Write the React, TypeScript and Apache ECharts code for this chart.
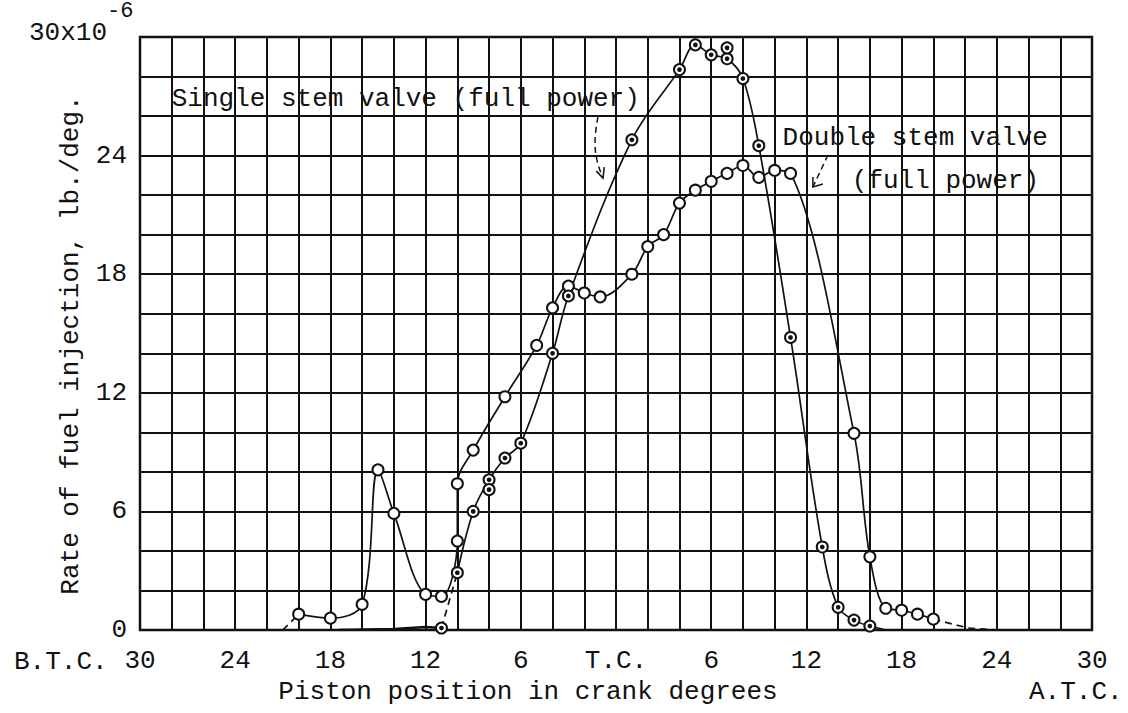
import React, { useEffect, useRef } from "react";
import * as echarts from "echarts";

// ---- axis ticks / labels ----
const xTicks = [-30, -24, -18, -12, -6, 0, 6, 12, 18, 24, 30];
const xTickLabels = ["30", "24", "18", "12", "6", "T.C.", "6", "12", "18", "24", "30"];
const yTicks = [0, 6, 12, 18, 24, 30];
const yTickLabels = ["0", "6", "12", "18", "24", "30x10"];
const yExponent = "-6";
const xTitle = "Piston position in crank degrees";
const yTitle = "Rate of fuel injection, lb./deg.";
const beforeLabel = "B.T.C.";
const afterLabel = "A.T.C.";
const singleLabel = "Single stem valve (full power)";
const doubleLabel1 = "Double stem valve";
const doubleLabel2 = "(full power)";

// ---- Double stem valve (open circles) ----
const doubleX = [-20, -18, -16, -15, -14, -12, -11, -10, -10, -9, -7, -5, -4, -3, -2, -1, 1, 2, 3, 4, 5, 6, 7, 8, 9, 10, 11, 15, 16, 17, 18, 19, 20];
const doubleY = [0.8, 0.6, 1.3, 8.1, 5.9, 1.8, 1.7, 4.5, 7.4, 9.1, 11.8, 14.4, 16.3, 17.4, 17.05, 16.85, 18.0, 19.4, 20.0, 21.6, 22.25, 22.7, 23.1, 23.5, 22.9, 23.25, 23.1, 9.95, 3.7, 1.1, 1.0, 0.8, 0.55];
const doubleLeadX = [-21, -20];
const doubleLeadY = [0, 0.8];
const doubleTailX = [20, 22.2, 24];
const doubleTailY = [0.55, 0.1, 0];

// ---- Single stem valve (dotted circles) ----
const singleX = [-11, -10, -9, -8, -7, -6, -4, -3, 1, 4, 5, 6, 7, 8, 9, 11, 13, 14, 15, 16];
const singleY = [0.1, 2.9, 6.0, 7.6, 8.7, 9.45, 14.0, 16.9, 24.8, 28.35, 29.6, 29.1, 28.9, 27.9, 24.5, 14.8, 4.2, 1.15, 0.5, 0.2];
const singleExtraX = [-8, 7];
const singleExtraY = [7.1, 29.45];
const singleLeadX = [-17.5, -14, -12, -11];
const singleLeadY = [0, 0.05, 0.15, 0.1];
const singleEndX = [16, 17];
const singleEndY = [0.2, 0];

const FONT = "'Liberation Mono', 'DejaVu Sans Mono', monospace";
const INK = "#111";

const pairs = (xs: number[], ys: number[]) => xs.map((x, i) => [x, ys[i]]);

export default function App() {
  const ref = useRef<HTMLDivElement>(null);

  useEffect(() => {
    document.body.style.margin = "0";
    const chart = echarts.init(ref.current!, null, { renderer: "svg" });

    const line = (data: number[][], opts: any = {}) => ({
      type: "line",
      data,
      showSymbol: false,
      symbol: "none",
      silent: true,
      z: 2,
      smooth: opts.smooth ?? false,
      lineStyle: { color: INK, width: opts.width ?? 1.7, type: opts.dash ? [7, 5] : "solid" },
    });
    const marks = (data: number[][], size: number, symbol: string, z: number) => ({
      type: "scatter",
      data,
      symbol,
      symbolSize: size,
      silent: true,
      z,
      itemStyle: { color: INK, borderColor: INK, borderWidth: 1.7, opacity: 1 },
    });

    chart.setOption({
      animation: false,
      backgroundColor: "#fff",
      grid: {
        left: 140,
        right: 36,
        top: 37,
        bottom: 83,
        show: true,
        borderColor: INK,
        borderWidth: 2.5,
        backgroundColor: "transparent",
        outerBoundsMode: "none",
      },
      xAxis: {
        type: "value",
        min: -30,
        max: 30,
        interval: 2,
        axisLine: { show: false },
        axisTick: { show: false },
        splitLine: { show: true, lineStyle: { color: INK, width: 2 } },
        axisLabel: {
          margin: 18,
          fontFamily: FONT,
          fontSize: 26,
          color: INK,
          showMinLabel: true,
          showMaxLabel: true,
          formatter: (v: number) => {
            const i = xTicks.indexOf(Math.round(v));
            return i >= 0 ? xTickLabels[i] : "";
          },
        },
      },
      yAxis: {
        type: "value",
        min: 0,
        max: 30,
        interval: 2,
        axisLine: { show: false },
        axisTick: { show: false },
        splitLine: { show: true, lineStyle: { color: INK, width: 2 } },
        axisLabel: {
          margin: 13,
          fontFamily: FONT,
          fontSize: 26,
          color: INK,
          showMinLabel: true,
          showMaxLabel: true,
          formatter: (v: number) => {
            const i = yTicks.indexOf(Math.round(v));
            if (i < 0) return "";
            if (i === yTicks.length - 1) return "{top|" + yTickLabels[i] + "}";
            return yTickLabels[i];
          },
          rich: {
            top: { fontFamily: FONT, fontSize: 26, color: INK, padding: [0, 20, 8, 0] },
          },
        },
      },
      series: [
        line(pairs(doubleX, doubleY), { smooth: 0.35 }),
        line(pairs(doubleLeadX, doubleLeadY), { dash: true }),
        line(pairs(doubleTailX, doubleTailY), { dash: true }),
        line(pairs(singleLeadX, singleLeadY), { width: 2.6 }),
        line(pairs(singleX, singleY).slice(0, 2), { dash: true }),
        line(pairs(singleX, singleY).slice(1), { smooth: 0.35 }),
        line(pairs(singleEndX, singleEndY), {}),
        marks(pairs(doubleX, doubleY), 11, "emptyCircle", 5),
        marks(pairs(singleX, singleY), 11, "emptyCircle", 5),
        marks(pairs(singleExtraX, singleExtraY), 11, "emptyCircle", 5),
        marks(pairs(singleX, singleY), 3, "circle", 6),
        marks(pairs(singleExtraX, singleExtraY), 3, "circle", 6),
      ],
    });

    const px = (x: number, y: number) => chart.convertToPixel({ gridIndex: 0 }, [x, y]) as number[];
    const txt = (text: string, x: number, y: number, align: string, size = 26, rotation = 0) => ({
      type: "text",
      x,
      y,
      rotation,
      silent: true,
      z: 10,
      style: {
        text,
        fontFamily: FONT,
        fontSize: size,
        fill: INK,
        align,
        textAlign: align,
        verticalAlign: "middle",
        textVerticalAlign: "middle",
      },
    });

    const sl = px(-28, 26.85);
    const d1 = px(10.5, 24.9);
    const d2 = px(14.86, 22.7);
    const sArrow = [px(-1.14, 25.95), px(-1.32, 24.78), px(-1.2, 23.77), px(-0.82, 22.86)];
    const sTip = sArrow[sArrow.length - 1];
    const dArrow = [px(13.36, 24.03), px(12.41, 22.41)];
    const dTip = dArrow[dArrow.length - 1];
    const origin = px(-30, 0);
    const topLeft = px(-30, 30);

    chart.setOption({
      graphic: [
        txt(singleLabel, sl[0], sl[1], "left"),
        txt(doubleLabel1, d1[0], d1[1], "left"),
        txt(doubleLabel2, d2[0], d2[1], "left"),
        txt(yExponent, topLeft[0] - 33, topLeft[1] - 26, "left", 22),
        txt(beforeLabel, 14, origin[1] + 32, "left"),
        txt(afterLabel, 1029, origin[1] + 62, "left"),
        txt(xTitle, 528, origin[1] + 62, "center"),
        txt(yTitle, 71, 345, "center", 26, Math.PI / 2),
        {
          type: "polyline",
          silent: true,
          z: 10,
          shape: { points: sArrow, smooth: 0.4 },
          style: { stroke: INK, lineWidth: 1.5, fill: null, lineDash: [6, 4] },
        },
        {
          type: "polyline",
          silent: true,
          z: 10,
          shape: { points: [[sTip[0] - 6.7, sTip[1] - 7], sTip, [sTip[0] + 1.3, sTip[1] - 11]] },
          style: { stroke: INK, lineWidth: 1.5, fill: null },
        },
        {
          type: "polyline",
          silent: true,
          z: 10,
          shape: { points: dArrow },
          style: { stroke: INK, lineWidth: 1.5, fill: null, lineDash: [6, 4] },
        },
        {
          type: "polyline",
          silent: true,
          z: 10,
          shape: { points: [[dTip[0], dTip[1] - 10], dTip, [dTip[0] + 10, dTip[1] - 3]] },
          style: { stroke: INK, lineWidth: 1.5, fill: null },
        },
      ],
    });

    return () => chart.dispose();
  }, []);

  return <div ref={ref} style={{ width: 1128, height: 713, background: "#fff" }} />;
}
